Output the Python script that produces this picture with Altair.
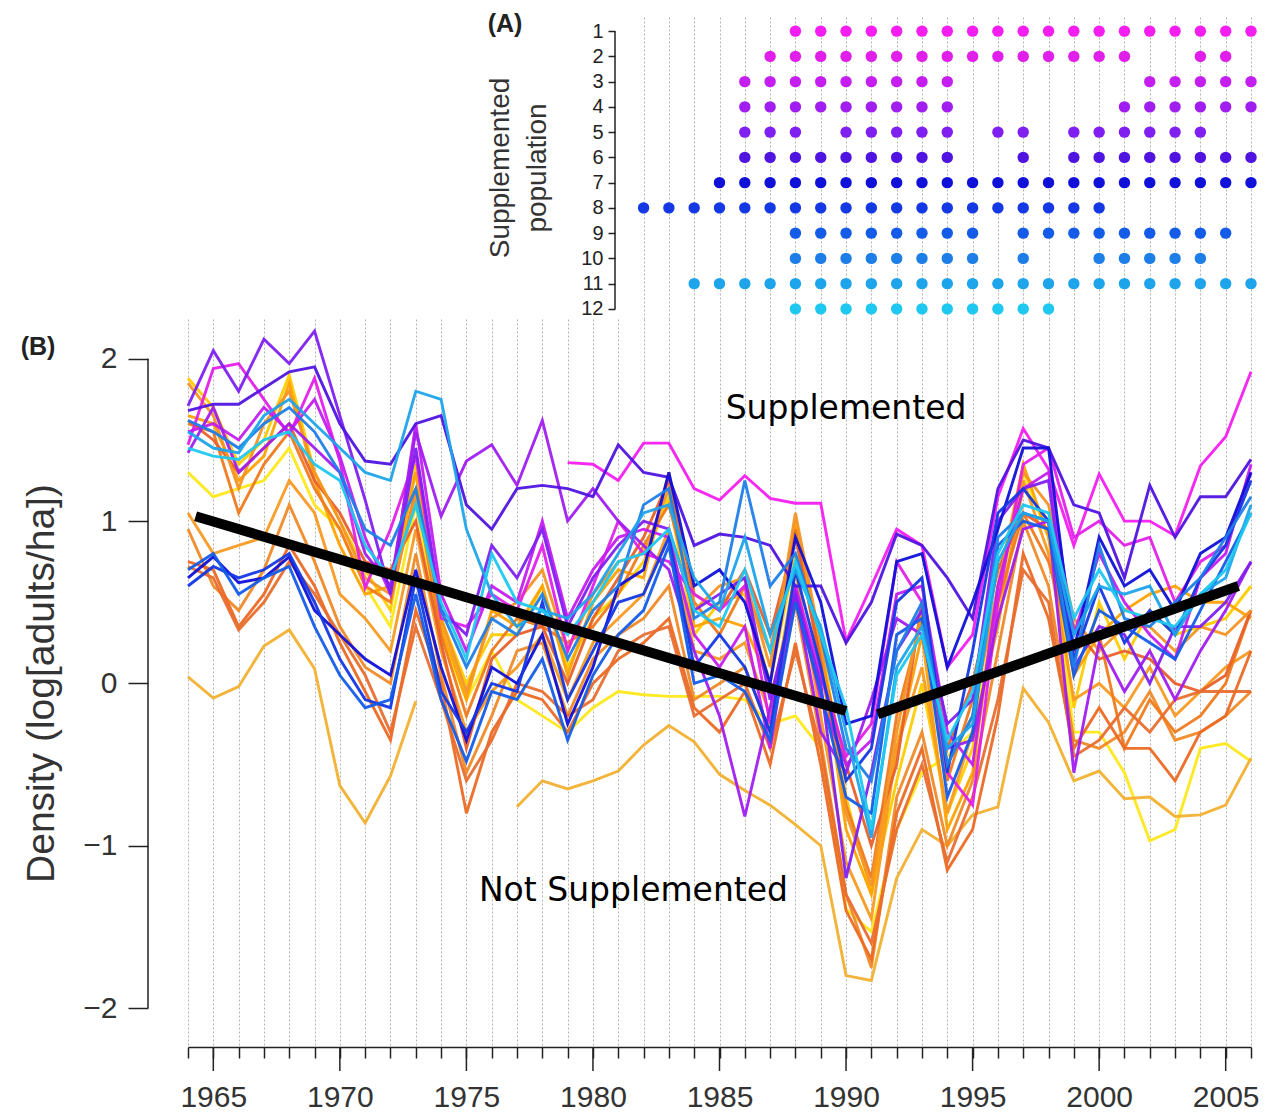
import altair as alt
import pandas as pd

years = list(range(1964, 2007))
major_years = [1965, 1970, 1975, 1980, 1985, 1990, 1995, 2000, 2005]

# ---------------- Panel A: supplementation years per population ----------------
rows_years = {
    1: list(range(1988, 2007)),
    2: list(range(1987, 2002)) + [2004, 2005],
    3: list(range(1986, 1995)) + list(range(2002, 2007)),
    4: list(range(1986, 1995)) + list(range(2001, 2007)),
    5: [1986, 1987, 1988] + list(range(1990, 1995)) + [1996, 1997] + list(range(1999, 2005)),
    6: list(range(1986, 1995)) + [1997] + list(range(1999, 2007)),
    7: list(range(1985, 2007)),
    8: list(range(1982, 2001)),
    9: list(range(1988, 1996)) + list(range(1997, 2006)),
    10: list(range(1988, 1996)) + [1997] + list(range(2000, 2005)),
    11: list(range(1984, 2007)),
    12: list(range(1988, 1999)),
}
row_colors = ["#f41ef0", "#e020ea", "#c41ef0", "#a01ef0", "#8020f0", "#5014e0",
              "#1010d8", "#1438e4", "#145ce8", "#1e7ee8", "#1ea4ea", "#1ec8f0"]

# ---------------- Panel B: densities ----------------
S1 = [None] * 15 + [1.36, 1.35, 1.25, 1.48, 1.48,
                    1.20, 1.13, 1.28, 1.14, 1.11, 1.11, 0.26, 0.60, 0.95, 0.85,
                    0.10, 0.30, 1.15, 1.57, 1.32, 0.85, 1.29, 1.00, 1.00, 0.91,
                    1.34, 1.52, 1.92]
S2 = [1.47, 1.94, 1.97, 1.75, 1.53, 1.88, 1.37, 0.59, 0.95, 1.40,
      0.40, 0.35, 0.55, 0.45, 0.85, 0.20, 0.60, 1.00, 0.80, 0.75,
      0.55, 0.45, 0.60, -0.25, 0.60, 0.05, -0.45, -0.25, 0.75, 0.50,
      -0.55, -0.75, 0.50, 1.35, 1.45, 0.90, 1.00, 0.85, 0.90, 0.50,
      0.75, 0.85, 1.30]
S3 = [1.55, 1.60, 1.50, 1.70, 1.55, 1.75, 1.40, 0.90, 0.55, 1.60,
      0.55, 0.20, 0.60, 0.50, 1.00, 0.40, 0.70, 0.90, 0.95, 0.90,
      0.30, 0.10, 0.35, -0.40, 0.60, -0.10, -0.50, -0.35, 0.55, 0.60,
      -0.30, -0.50, 0.60, 1.20, 1.30, 0.30, 0.80, 0.50, 0.30, 0.15,
      0.65, 0.80, 1.35]
S4 = [1.42, 1.70, 1.30, 1.45, 1.60, 1.45, 1.30, 0.80, 0.60, 1.55,
      1.03, 1.37, 1.47, 1.22, 1.62, 1.00, 1.20, 1.00, 0.85, 0.70,
      0.20, -0.20, -0.82, -0.15, 0.55, -0.30, -0.55, -0.10, 0.40, 0.30,
      -0.40, -0.35, 0.40, 0.95, 1.00, -0.55, 0.25, -0.05, 0.20, -0.10,
      0.20, 0.45, 0.75]
S5 = [1.71, 2.05, 1.80, 2.12, 1.97, 2.17, 1.65, 1.13, 0.55, 1.45,
      0.45, 0.30, 0.85, 0.65, 0.95, 0.35, 0.65, 0.85, 1.00, 0.95,
      0.45, 0.55, 0.65, -0.10, 0.55, 0.00, -1.20, -0.55, 0.20, 0.45,
      -0.25, -0.10, 1.00, 1.20, 1.25, 0.10, 0.35, 0.30, 0.00, 0.35,
      0.35, 0.50, 0.75]
S6 = [1.68, 1.72, 1.72, 1.82, 1.92, 1.95, 1.60, 1.37, 1.35, 1.60,
      1.65, 1.10, 0.95, 1.20, 1.22, 1.20, 1.15, 1.47, 1.30, 1.27,
      0.85, 0.92, 0.90, 0.85, 0.60, 0.60, 0.25, 0.50, 0.92, 0.85,
      0.65, 0.40, 1.20, 1.50, 1.45, 1.10, 1.05, 0.65, 1.22, 0.90,
      1.15, 1.15, 1.38]
S7 = [0.65, 0.78, 0.62, 0.65, 0.78, 0.45, 0.30, 0.15, 0.05, 0.70,
      0.10, -0.35, 0.10, 0.00, 0.30, -0.25, 0.10, 0.60, 0.70, 1.30,
      0.60, 0.70, 0.50, 0.00, 0.90, 0.50, -0.25, -0.20, 0.75, 0.80,
      0.10, 0.50, 0.95, 1.45, 1.45, 0.20, 0.90, 0.60, 0.70, 0.45,
      0.80, 0.90, 1.30]
S8 = [0.60, 0.72, 0.65, 0.70, 0.80, 0.50, 0.15, -0.10, -0.15, 0.65,
      -0.05, -0.30, 0.00, -0.05, 0.50, -0.10, 0.20, 0.50, 0.55, 0.90,
      0.10, 0.30, 0.10, -0.30, 0.70, 0.10, -0.60, -0.40, 0.50, 0.65,
      -0.55, 0.20, 1.05, 1.20, 1.00, 0.15, 0.60, 0.25, 0.45, 0.30,
      0.65, 0.85, 1.25]
S9 = [0.70, 0.80, 0.55, 0.65, 0.72, 0.35, 0.05, -0.15, -0.10, 0.55,
      -0.10, -0.48, -0.05, -0.10, 0.15, -0.35, 0.05, 0.30, 0.45, 0.85,
      0.00, 0.05, -0.05, -0.35, 0.50, -0.05, -0.70, -0.80, 0.30, 0.40,
      -0.70, -0.30, 0.85, 1.00, 0.95, 0.05, 0.45, 0.35, 0.25, 0.15,
      0.45, 0.75, 1.05]
S10 = [1.62, 1.55, 1.45, 1.60, 1.70, 1.55, 1.30, 0.95, 0.85, 1.20,
       0.45, 0.10, 0.40, 0.30, 0.55, 0.15, 0.45, 0.60, 1.10, 1.20,
       0.40, 0.50, 1.25, 0.60, 0.80, 0.30, -0.40, -0.60, 0.20, 0.50,
       -0.50, -0.20, 0.90, 1.05, 1.00, 0.10, 0.85, 0.40, 0.35, 0.50,
       0.65, 0.90, 1.15]
S11 = [1.55, 1.45, 1.42, 1.65, 1.75, 1.60, 1.45, 1.30, 1.25, 1.80,
       1.75, 0.95, 0.55, 0.35, 0.45, 0.40, 0.55, 0.80, 1.05, 1.10,
       0.65, 0.45, 0.90, 0.30, 0.70, 0.35, -0.30, -0.95, 0.10, 0.35,
       -0.40, -0.25, 0.75, 1.05, 1.00, 0.30, 0.60, 0.55, 0.60, 0.30,
       0.55, 0.65, 1.10]
S12 = [1.45, 1.40, 1.38, 1.50, 1.55, 1.35, 1.25, 0.85, 0.65, 1.10,
       0.50, 0.15, 0.80, 0.50, 0.45, 0.30, 0.50, 0.75, 0.80, 0.95,
       0.45, 0.35, 0.70, 0.20, 0.75, 0.30, -0.15, -0.90, 0.05, 0.30,
       -0.35, -0.05, 0.80, 1.10, 1.05, 0.40, 0.70, 0.45, 0.40, 0.35,
       0.55, 0.70, 1.05]

N1 = [1.30, 1.15, 1.20, 1.25, 1.45, 1.10, 0.95, 0.60, 0.35, 1.10,
      0.30, -0.10, 0.20, -0.10, -0.20, -0.30, -0.15, -0.05, -0.07, -0.08,
      -0.08, -0.08, -0.10, -0.25, -0.20, -0.40, -1.39, -1.53, -0.90, -0.55,
      -0.45, -0.30, 0.50, 1.30, 0.90, -0.30, -0.30, -0.55, -0.97, -0.90,
      -0.40, -0.37, -0.48]
N2 = [1.88, 1.70, 1.35, 1.50, 1.90, 1.30, 1.00, 0.70, 0.45, 1.35,
      0.40, 0.00, 0.30, 0.30, 0.60, 0.10, 0.40, 0.55, 0.75, 1.15,
      0.30, 0.50, 0.55, 0.00, 0.80, 0.30, -0.70, -1.30, -0.60, 0.00,
      -0.80, -0.40, 0.40, 1.20, 1.00, -0.15, 0.50, 0.15, 0.45, 0.30,
      0.35, 0.40, 0.60]
N3 = [0.04, -0.09, -0.02, 0.23, 0.33, 0.09, -0.63, -0.86, -0.57, -0.11,
      None, None, None, -0.76, -0.60, -0.65, -0.60, -0.54, -0.38, -0.26,
      -0.36, -0.56, -0.66, -0.75, -0.87, -1.00, -1.80, -1.83, -1.20, -0.90,
      -1.00, -0.81, -0.76, -0.03, -0.24, -0.60, -0.54, -0.71, -0.70, -0.82,
      -0.81, -0.75, -0.46]
N4 = [1.65, 1.60, 1.25, 1.40, 1.85, 1.25, 0.85, 0.55, 0.60, 1.30,
      0.35, -0.10, 0.45, 0.35, 0.60, 0.05, 0.50, 0.70, 0.65, 1.30,
      0.35, 0.40, 0.35, 0.00, 1.00, 0.20, -0.90, -1.30, -0.40, 0.30,
      -0.90, -0.55, 0.60, 1.35, 0.90, 0.05, 0.30, 0.45, 0.55, 0.60,
      0.50, 0.50, 0.40]
N5 = [1.05, 0.80, 0.85, 0.90, 1.25, 1.05, 0.55, 0.40, 0.20, 0.95,
      0.20, -0.30, -0.05, 0.10, 0.30, -0.10, 0.25, 0.40, 0.55, 0.95,
      0.20, 0.15, 0.25, -0.20, 0.70, -0.20, -1.10, -1.45, -0.40, 0.10,
      -0.80, -0.30, 0.35, 1.25, 0.80, -0.10, 0.00, -0.15, 0.10, -0.20,
      -0.05, 0.10, 0.20]
N6 = [0.95, 0.60, 0.45, 0.70, 1.10, 0.75, 0.35, 0.10, 0.00, 0.80,
      0.05, -0.55, -0.20, 0.20, 0.25, -0.20, 0.15, 0.30, 0.40, 0.60,
      -0.10, 0.00, 0.10, -0.30, 0.50, -0.35, -1.30, -1.75, -0.70, -0.30,
      -1.00, -0.60, 0.20, 1.00, 0.60, -0.35, -0.40, -0.30, -0.05, -0.35,
      -0.30, -0.20, -0.05]
N7 = [1.60, 1.55, 1.05, 1.35, 1.55, 1.20, 0.95, 0.60, 0.50, 1.20,
      0.30, -0.20, 0.20, 0.40, 0.35, 0.25, 0.35, 0.55, 0.85, 1.10,
      0.50, 0.30, 0.60, 0.20, 0.95, 0.10, -0.75, -1.20, -0.20, 0.40,
      -0.60, -0.10, 0.50, 1.05, 0.75, 0.20, 0.30, -0.40, -0.10, -0.30,
      -0.20, 0.00, 0.45]
N8 = [0.75, 0.70, 0.35, 0.55, 0.85, 0.60, 0.25, -0.05, -0.35, 0.45,
      0.00, -0.80, -0.30, -0.05, -0.10, -0.30, 0.00, 0.15, 0.25, 0.40,
      -0.15, -0.30, -0.05, -0.50, 0.25, -0.50, -1.40, -1.70, -0.80, -0.40,
      -1.15, -0.90, -0.20, 0.80, 0.40, -0.40, -0.15, -0.40, -0.40, -0.60,
      -0.30, -0.20, 0.20]
N9 = [1.62, 1.50, 1.30, 1.45, 1.60, 1.25, 1.05, 0.75, 0.70, 1.00,
      0.25, -0.40, 0.15, 0.30, 0.35, 0.00, 0.40, 0.65, 0.90, 1.25,
      0.55, 0.45, 0.70, 0.30, 0.90, 0.15, -0.50, -1.00, -0.50, 0.50,
      -0.40, 0.00, 0.70, 1.05, 0.95, 0.35, 0.15, 0.20, 0.15, 0.00,
      -0.05, 0.05, 0.45]
N10 = [1.85, 1.65, 1.20, 1.60, 1.80, 1.30, 1.00, 0.65, 0.55, 1.15,
       0.40, -0.05, 0.40, 0.50, 0.70, 0.20, 0.55, 0.75, 0.80, 1.20,
       0.45, 0.60, 0.65, 0.10, 1.05, 0.25, -0.80, -1.25, -0.30, 0.45,
       -0.50, -0.20, 0.60, 1.30, 1.10, 0.40, 0.20, 0.35, 0.35, 0.20,
       0.35, 0.30, 0.45]
N11 = [0.72, 0.65, 0.33, 0.50, 0.75, 0.55, 0.30, 0.05, -0.30, 0.35,
       -0.10, -0.60, -0.35, 0.00, -0.05, -0.20, -0.10, 0.20, 0.30, 0.35,
       -0.20, -0.10, 0.00, -0.40, 0.20, -0.40, -1.30, -1.60, -0.90, -0.50,
       -1.10, -0.70, -0.10, 0.70, 0.50, -0.45, -0.35, -0.15, -0.30, -0.10,
       -0.05, -0.05, -0.05]

sup_series = [("S1", S1), ("S2", S2), ("S3", S3), ("S4", S4), ("S5", S5), ("S6", S6),
              ("S7", S7), ("S8", S8), ("S9", S9), ("S10", S10), ("S11", S11), ("S12", S12)]
non_series = [("N1", N1), ("N2", N2), ("N3", N3), ("N4", N4), ("N5", N5), ("N6", N6),
              ("N7", N7), ("N8", N8), ("N9", N9), ("N10", N10), ("N11", N11)]
non_colors = ["#ffe81a", "#ffcc00", "#f2b030", "#ffa200", "#f89a22", "#f08a28",
              "#f07a1e", "#ec6a24", "#e8602a", "#f49426", "#e86e30"]

# Trend lines (black)
trend_id = ["down", "down", "up", "up"]
trend_year = [1964.3, 1990.0, 1991.25, 2005.5]
trend_val = [1.03, -0.17, -0.19, 0.60]

# Annotations
ann_text = ["Supplemented", "Not Supplemented"]
ann_year = [1990.0, 1981.6]
ann_val = [1.63, -1.34]


def to_long(series, group):
    recs = []
    for name, vals in series:
        seg = 0
        prev_none = True
        for yr, v in zip(years, vals):
            if v is None:
                prev_none = True
                continue
            if prev_none:
                seg += 1
                prev_none = False
            recs.append({"series": name, "seg": f"{group}_{name}_{seg}", "year": yr,
                         "density": v})
    return pd.DataFrame(recs)


# non-supplemented first so supplemented are drawn on top
df_lines = pd.concat([to_long(non_series, "a"), to_long(sup_series, "b")], ignore_index=True)

recsA = []
for r, yrs in rows_years.items():
    for y in yrs:
        recsA.append({"row": r, "series": f"S{r}", "year": y})
dfA = pd.DataFrame(recsA)

W = 1063
HA = 303
HB = 728
FONT = "Liberation Sans"

all_names = [n for n, _ in non_series] + [n for n, _ in sup_series]
all_colors = non_colors + row_colors
cscale = alt.Scale(domain=all_names, range=all_colors)

xscale = alt.Scale(domain=[1964, 2006], nice=False, zero=False)

# ---- Panel A ----
yA = alt.Scale(domain=[0.4, 12.4], reverse=True, nice=False, zero=False)
dots = alt.Chart(dfA).mark_circle(size=130, opacity=1).encode(
    x=alt.X("year:Q", scale=xscale,
            axis=alt.Axis(values=list(range(1982, 2007)), tickCount=200, grid=True,
                          gridDash=[2, 2], gridColor="#b4b4b4", gridWidth=1, labels=False,
                          ticks=False, domain=False, title=None)),
    y=alt.Y("row:Q", scale=yA,
            axis=alt.Axis(values=list(range(1, 13)), tickCount=200, offset=-427, domain=False,
                          tickSize=7, tickColor="#222", tickWidth=1.5, labelFontSize=20,
                          labelFont=FONT, labelColor="#222", labelPadding=5, grid=False,
                          labelOverlap=False, format="d",
                          title=["Supplemented", "population"], titleFontSize=28,
                          titleFont=FONT, titleFontWeight="normal", titleColor="#333",
                          titlePadding=29, titleLineHeight=37)),
    color=alt.Color("series:N", scale=cscale, legend=None),
)
axisA = alt.Chart(pd.DataFrame({"row": [1], "row2": [12]})).mark_rule(
    color="#222", strokeWidth=1.5).encode(
    x=alt.value(427), y=alt.Y("row:Q", scale=yA), y2="row2:Q")
labA = alt.Chart(pd.DataFrame({"t": ["(A)"]})).mark_text(
    font=FONT, fontSize=25, fontWeight="bold", color="#222", align="center",
    baseline="middle").encode(x=alt.value(317), y=alt.value(8), text="t:N")
panelA = alt.layer(dots, axisA, labA).properties(width=W, height=HA)

# ---- Panel B ----
yB = alt.Scale(domain=[-2.24, 2.245], nice=False, zero=False)

xaxisB = alt.Axis(values=years, tickCount=200, grid=True, gridDash=[2, 2], gridColor="#b4b4b4",
                  gridWidth=1,
                  labelExpr="datum.value % 5 == 0 ? format(datum.value, 'd') : ''",
                  tickSize=11, tickColor="#222", tickWidth=1.5,
                  domainColor="#222", domainWidth=1.5,
                  labelFontSize=30, labelFont=FONT, labelColor="#333", labelPadding=24,
                  labelOverlap=False, labelFlush=False, title=None)
yaxisB = alt.Axis(values=[-2, -1, 0, 1, 2], tickCount=200, format="d", offset=40, domain=False,
                  tickSize=20, tickColor="#222", tickWidth=1.5, labelFontSize=30,
                  labelFont=FONT, labelColor="#333", labelPadding=11, grid=False,
                  title="Density (log[adults/ha])", titleFontSize=39, titleFont=FONT,
                  titleFontWeight="normal", titleColor="#333", titlePadding=21)

lines = alt.Chart(df_lines).mark_line(strokeWidth=2.9, opacity=0.95).encode(
    x=alt.X("year:Q", scale=xscale, axis=xaxisB),
    y=alt.Y("density:Q", scale=yB, axis=yaxisB),
    color=alt.Color("series:N", scale=cscale, legend=None),
    detail="seg:N",
)
trend = alt.Chart(pd.DataFrame({"id": trend_id, "year": trend_year, "density": trend_val})).mark_line(
    color="black", strokeWidth=10, strokeCap="butt").encode(
    x="year:Q", y="density:Q", detail="id:N")
ann = alt.Chart(pd.DataFrame({"t": ann_text, "year": ann_year, "density": ann_val})).mark_text(
    font="DejaVu Sans", fontSize=33, color="black", align="center", baseline="alphabetic").encode(
    x="year:Q", y="density:Q", text="t:N")
axisB = alt.Chart(pd.DataFrame({"density": [-2], "d2": [2]})).mark_rule(
    color="#222", strokeWidth=1.5).encode(
    x=alt.value(-40), y="density:Q", y2="d2:Q")
majors = alt.Chart(pd.DataFrame({"year": major_years})).mark_rule(
    color="#222", strokeWidth=1.5).encode(
    x="year:Q", y=alt.value(HB), y2=alt.value(HB + 24))
labB = alt.Chart(pd.DataFrame({"t": ["(B)"]})).mark_text(
    font=FONT, fontSize=25, fontWeight="bold", color="#222", align="center",
    baseline="middle").encode(x=alt.value(-150), y=alt.value(28), text="t:N")

panelB = alt.layer(lines, trend, ann, axisB, majors, labB).properties(width=W, height=HB)

chart = alt.vconcat(panelA, panelB, spacing=0, bounds="flush").properties(
    padding={"left": 12, "top": 4, "right": 10, "bottom": 5}
).configure_view(stroke=None)

chart.save("out.html", embed_options={"renderer": "svg", "actions": False})
